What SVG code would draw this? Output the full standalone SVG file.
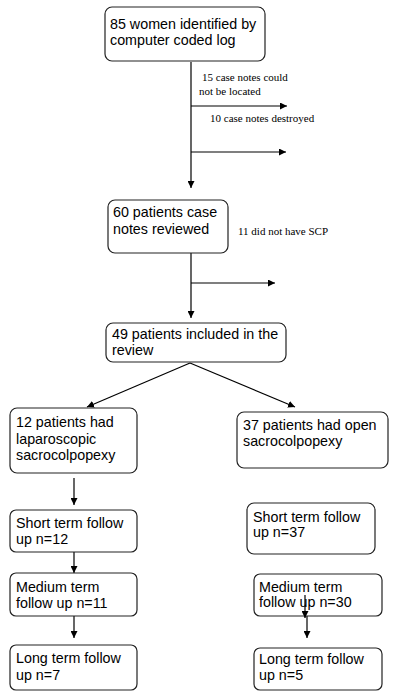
<svg xmlns="http://www.w3.org/2000/svg" width="400" height="697" viewBox="0 0 400 697">
<defs>
<marker id="ah" viewBox="0 0 10 10" refX="10" refY="5" markerWidth="7" markerHeight="7" markerUnits="userSpaceOnUse" orient="auto">
<path d="M0,0 L10,5 L0,10 z" fill="#000"/>
</marker>
</defs>
<style>
.box{fill:#fff;stroke:#222;stroke-width:1.2}
.t{font-family:"Liberation Sans",Arial,sans-serif;font-size:14.3px;fill:#000}
.s{font-family:"Liberation Serif","Times New Roman",serif;font-size:11px;fill:#000}
.c{stroke:#000;stroke-width:1.2;fill:none;marker-end:url(#ah)}
.l{stroke:#000;stroke-width:1.2;fill:none}
</style>
<rect width="400" height="697" fill="#fff"/>
<g id="connectors">
<line class="l" x1="191" y1="62" x2="191" y2="106"/>
<line class="c" x1="191" y1="106" x2="287" y2="106"/>
<line class="c" x1="191" y1="152" x2="286" y2="152"/>
<line class="c" x1="191" y1="106" x2="191" y2="188"/>
<line class="l" x1="191" y1="253" x2="191" y2="283"/>
<line class="c" x1="191" y1="283" x2="275" y2="283"/>
<line class="c" x1="191" y1="283" x2="191" y2="318"/>
<line class="c" x1="190" y1="363" x2="87" y2="407"/>
<line class="c" x1="190" y1="363" x2="295" y2="407"/>
<line class="c" x1="74" y1="478" x2="74" y2="505"/>
<line class="c" x1="74" y1="552" x2="74" y2="573"/>
<line class="c" x1="74" y1="616" x2="74" y2="638"/>
<line class="c" x1="307" y1="616" x2="307" y2="638"/>
</g>
<g id="n1">
<rect class="box" x="105" y="7" width="160" height="54" rx="7"/>
<text class="t" x="110" y="29">85 women identified by</text>
<text class="t" x="110" y="45">computer coded log</text>
</g>
<g id="lbl1">
<text class="s" x="202" y="81">15 case notes could</text>
<text class="s" x="199" y="95">not be located</text>
</g>
<g id="lbl2">
<text class="s" x="210" y="122">10 case notes destroyed</text>
</g>
<g id="n2">
<rect class="box" x="108" y="200" width="120" height="53" rx="7"/>
<text class="t" x="113" y="217">60 patients case</text>
<text class="t" x="113" y="234">notes reviewed</text>
</g>
<g id="lbl3">
<text class="s" x="238" y="235">11 did not have SCP</text>
</g>
<g id="n3">
<rect class="box" x="106" y="323" width="180" height="39" rx="7"/>
<text class="t" x="112" y="339">49 patients included in the</text>
<text class="t" x="112" y="355">review</text>
</g>
<g id="n4">
<rect class="box" x="10" y="408" width="127" height="65" rx="7"/>
<text class="t" x="16" y="427">12 patients had</text>
<text class="t" x="16" y="443.5">laparoscopic</text>
<text class="t" x="16" y="460">sacrocolpopexy</text>
</g>
<g id="n5">
<rect class="box" x="237" y="412" width="151" height="56" rx="7"/>
<text class="t" x="243" y="430">37 patients had open</text>
<text class="t" x="243" y="446">sacrocolpopexy</text>
</g>
<g id="n6">
<rect class="box" x="10" y="510" width="127" height="42" rx="6"/>
<text class="t" x="16" y="528">Short term follow</text>
<text class="t" x="16" y="544">up n=12</text>
</g>
<g id="n7">
<rect class="box" x="10" y="573" width="127" height="43" rx="6"/>
<text class="t" x="16" y="592">Medium term</text>
<text class="t" x="16" y="608">follow up n=11</text>
</g>
<g id="n8">
<rect class="box" x="10" y="645" width="127" height="45" rx="6"/>
<text class="t" x="16" y="663">Long term follow</text>
<text class="t" x="16" y="680">up n=7</text>
</g>
<g id="n9">
<rect class="box" x="247" y="503" width="128" height="51" rx="7"/>
<text class="t" x="253" y="522">Short term follow</text>
<text class="t" x="253" y="537">up n=37</text>
</g>
<g id="n10">
<rect class="box" x="254" y="574" width="128" height="42" rx="6"/>
<text class="t" x="259" y="592">Medium term</text>
<text class="t" x="259" y="607">follow up n=30</text>
</g>
<g id="n11">
<rect class="box" x="254" y="648" width="128" height="42" rx="6"/>
<text class="t" x="259" y="664">Long term follow</text>
<text class="t" x="259" y="680">up n=5</text>
</g>
<g id="overlay">
<line class="c" x1="305" y1="595" x2="305" y2="618"/>
</g>
</svg>
